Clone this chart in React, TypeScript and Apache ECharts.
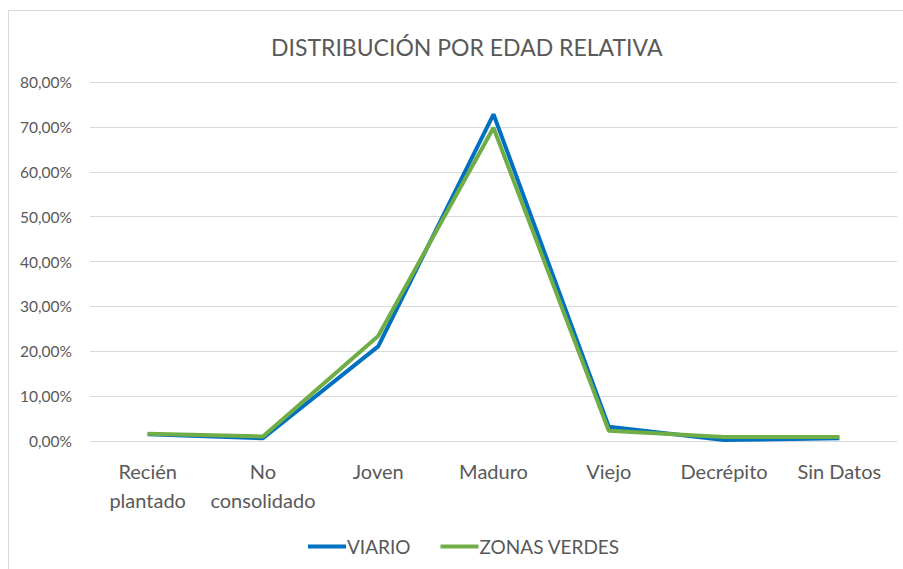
import React, { useEffect, useRef } from "react";
import * as echarts from "echarts";

const categories = ["Recién\nplantado", "No\nconsolidado", "Joven", "Maduro", "Viejo", "Decrépito", "Sin Datos"];
const viario = [1.5, 0.6, 21.1, 72.8, 3.2, 0.2, 0.6];
const zonasVerdes = [1.6, 1.0, 23.4, 69.8, 2.3, 0.9, 0.9];
const yTicks = [0, 10, 20, 30, 40, 50, 60, 70, 80];

const FONT = "Lato, 'Open Sans', sans-serif";

export default function App() {
  const ref = useRef<HTMLDivElement>(null);
  useEffect(() => {
    if (!ref.current) return;
    const chart = echarts.init(ref.current, undefined, { renderer: "svg" });
    chart.setOption({
      animation: false,
      backgroundColor: "#ffffff",
      title: {
        text: "DISTRIBUCIÓN POR EDAD RELATIVA",
        left: 266,
        top: 30,
        textStyle: { fontFamily: FONT, fontSize: 23, fontWeight: "normal", color: "#595959" },
      },
      graphic: [
        { type: "line", shape: { x1: 8.5, y1: 10.5, x2: 903, y2: 10.5 }, style: { stroke: "#d9d9d9", lineWidth: 1 } },
        { type: "line", shape: { x1: 8.5, y1: 10.5, x2: 8.5, y2: 569 }, style: { stroke: "#d9d9d9", lineWidth: 1 } },
      ],
      legend: {
        bottom: 8,
        left: 303,
        itemWidth: 38,
        itemHeight: 4,
        itemGap: 30,
        icon: "rect",
        textStyle: { fontFamily: FONT, fontSize: 19, color: "#595959", padding: [0, 0, 0, -4] },
        data: ["VIARIO", "ZONAS VERDES"],
      },
      grid: { left: 90, right: 6, top: 82, bottom: 128 },
      xAxis: {
        type: "category",
        data: categories,
        boundaryGap: true,
        axisLine: { show: false },
        axisTick: { show: false },
        axisLabel: { interval: 0, fontFamily: FONT, fontSize: 20, color: "#595959", margin: 15, lineHeight: 29 },
      },
      yAxis: {
        type: "value",
        min: 0,
        max: 80,
        interval: 10,
        axisLine: { show: false },
        axisTick: { show: false },
        splitLine: { lineStyle: { color: "#d9d9d9", width: 1 } },
        axisLabel: {
          fontFamily: FONT,
          fontSize: 15.5,
          color: "#595959",
          margin: 18,
          formatter: (v: number) => (yTicks.includes(v) ? v.toFixed(2).replace(".", ",") + "%" : ""),
        },
      },
      series: [
        {
          name: "VIARIO",
          type: "line",
          data: viario,
          symbol: "none",
          lineStyle: { color: "#0070C0", width: 4 },
          itemStyle: { color: "#0070C0" },
        },
        {
          name: "ZONAS VERDES",
          type: "line",
          data: zonasVerdes,
          symbol: "none",
          lineStyle: { color: "#70AD47", width: 4 },
          itemStyle: { color: "#70AD47" },
        },
      ],
    });
    return () => chart.dispose();
  }, []);
  return <div ref={ref} style={{ position: "absolute", left: 0, top: 0, width: 903, height: 569 }} />;
}
